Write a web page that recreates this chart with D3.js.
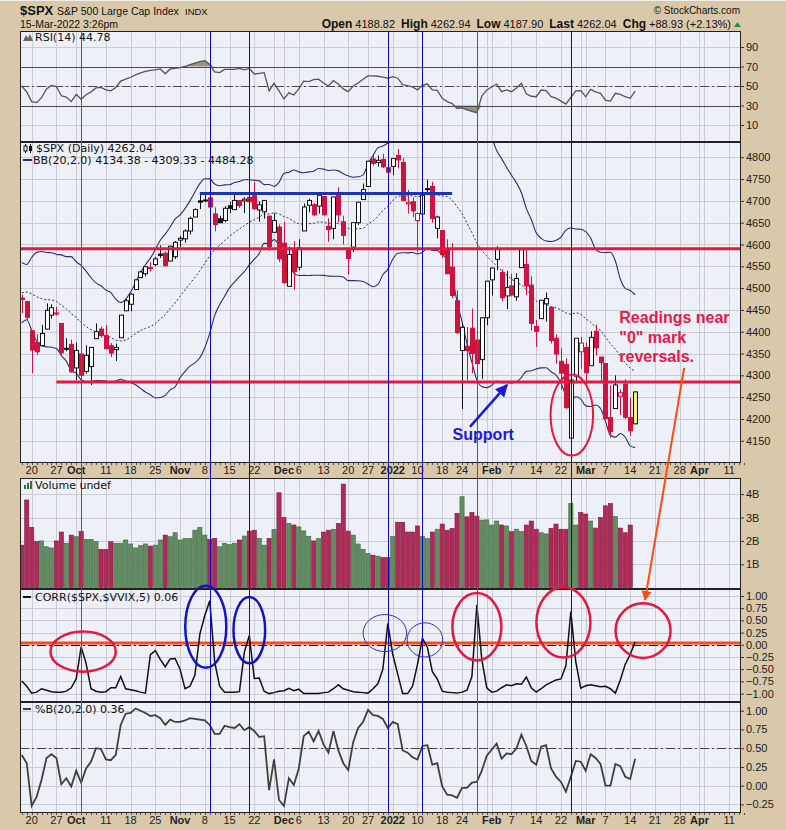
<!DOCTYPE html>
<meta charset="utf-8">
<title>$SPX S&amp;P 500 Large Cap Index</title>
<style>
html, body { margin: 0; padding: 0; background-color: #d9c9aa; }
svg { display: block; }
.hdr { font-family: Arial, "Liberation Sans", sans-serif; fill: #111; }
.lbl { font-family: "DejaVu Sans", Verdana, sans-serif; font-size: 11px; fill: #111; }
.axis text { font-family: Arial, "Liberation Sans", sans-serif; font-size: 11px; fill: #222; }
.axis path { display: none; }
.axis line { stroke: #333; }
.date { font-family: Arial, "Liberation Sans", sans-serif; font-size: 11px; fill: #222; text-anchor: middle; }
.note { font-family: Arial, "Liberation Sans", sans-serif; font-weight: bold; font-size: 16px; }
</style>
<body>
<script src="https://d3js.org/d3.v7.min.js"></script>
<script>

// ---- data (15-Mar-2022 3:26pm) ----
var holidays = ["2021-11-25", "2021-12-24", "2022-01-17", "2022-02-21", "2022-04-15"];

// 19 closes before the first bar, needed for BB(20,2)
var priorClose = [4405.8, 4441.67, 4479.53, 4486.23, 4496.19, 4470.0, 4509.37, 4528.79, 4522.68, 4524.09,
                  4536.95, 4535.43, 4520.03, 4514.07, 4493.28, 4458.58, 4468.73, 4443.05, 4480.7];

var open = [4477,4469,4402,4375,4368,4406,4438,4442,4419,4362,4371,4317,4349,4309,4320,4384,4406,4391,4368,4359,
            4386,4448,4463,4497,4524,4533,4547,4554,4578,4580,4562,4572,4610,4613,4631,4663,4700,4702,4707,4670,
            4659,4655,4689,4680,4701,4700,4708,4712,4679,4675,4665,4628,4640,4603,4504,4589,4548,4631,4690,4691,
            4688,4710,4642,4637,4719,4652,4587,4594,4650,4703,4733,4796,4788,4795,4776,4779,4804,4788,4693,4698,
            4655,4670,4728,4733,4637,4632,4588,4548,4471,4357,4367,4408,4381,4336,4432,4519,4566,4536,4482,4505,
            4480,4547,4554,4507,4412,4430,4464,4456,4385,4332,4325,4156,4298,4354,4364,4322,4401,4342,4327,4203,
            4224,4252,4280,4203,4188.82];
var high = [4485,4471,4402,4394,4416,4465,4463,4457,4419,4385,4382,4375,4356,4369,4365,4419,4412,4415,4374,4373,
            4439,4475,4488,4520,4540,4549,4559,4572,4598,4584,4597,4608,4620,4635,4664,4683,4718,4715,4709,4685,
            4666,4688,4698,4714,4701,4708,4718,4743,4699,4702,4665,4672,4646,4652,4595,4608,4612,4694,4705,4695,
            4713,4710,4660,4709,4731,4666,4591,4651,4697,4740,4791,4808,4804,4808,4786,4797,4819,4798,4725,4708,
            4673,4714,4749,4744,4666,4632,4612,4603,4495,4418,4411,4453,4429,4433,4516,4547,4596,4543,4539,4533,
            4534,4589,4588,4527,4427,4473,4490,4456,4394,4362,4339,4295,4385,4388,4375,4401,4416,4342,4327,4277,
            4300,4268,4291,4248,4262.94];
var low  = [4443,4427,4305,4347,4367,4406,4430,4437,4346,4355,4306,4289,4279,4304,4278,4384,4386,4360,4342,4333,
            4386,4448,4447,4496,4524,4527,4538,4550,4569,4551,4562,4567,4595,4604,4623,4663,4681,4697,4670,4630,
            4649,4651,4672,4680,4684,4672,4690,4680,4652,4659,4586,4626,4560,4510,4504,4496,4541,4631,4674,4665,
            4671,4667,4606,4612,4651,4600,4531,4583,4645,4703,4733,4781,4778,4775,4765,4759,4775,4699,4671,4663,
            4582,4638,4718,4650,4614,4569,4533,4477,4395,4223,4288,4305,4309,4292,4415,4483,4541,4470,4452,4481,
            4471,4547,4484,4402,4365,4430,4423,4373,4327,4267,4223,4115,4287,4315,4279,4322,4345,4284,4199,4157,
            4223,4209,4200,4161,4187.9];
var close = [4474,4433,4358,4354,4396,4449,4455,4443,4352,4360,4308,4357,4300,4346,4364,4400,4391,4361,4351,4364,
             4438,4471,4486,4519,4537,4549,4545,4567,4575,4551,4596,4605,4614,4631,4660,4680,4697,4702,4686,4646,
             4650,4683,4683,4701,4689,4704,4698,4682,4691,4701,4595,4655,4567,4513,4577,4538,4592,4686,4701,4668,
             4713,4668,4634,4709,4668,4621,4568,4650,4697,4726,4791,4786,4793,4778,4766,4797,4794,4701,4696,4677,
             4671,4713,4726,4660,4663,4577,4533,4483,4398,4410,4357,4350,4327,4432,4516,4546,4589,4478,4501,4484,
             4522,4588,4505,4419,4401,4472,4476,4380,4349,4305,4226,4289,4385,4374,4306,4387,4363,4329,4201,4171,
             4278,4260,4204,4173,4262.04];

// volume in billions (today's bar not posted yet)
var volume = [1.82,3.75,2.58,1.97,2.0,1.75,1.7,2.0,2.38,1.9,2.25,2.18,2.41,2.07,2.07,1.97,1.64,1.64,1.97,1.9,
              1.9,2.04,1.87,1.7,1.8,1.87,1.78,1.82,2.04,2.25,2.18,2.35,2.04,2.11,2.11,2.46,2.58,2.25,2.07,2.11,
              1.75,1.9,1.85,1.9,2.04,2.21,2.42,2.46,2.11,1.82,2.11,2.49,4.06,3.01,2.75,2.68,2.6,2.43,2.2,2.0,
              2.1,2.38,2.46,2.5,2.75,4.43,2.42,2.25,1.87,1.64,1.46,1.39,1.35,1.29,1.29,2.2,2.8,2.8,2.38,2.38,
              2.64,2.2,2.1,2.38,2.5,2.72,2.46,2.54,3.18,3.89,3.03,3.22,3.06,2.89,2.9,2.68,2.85,2.68,2.64,2.4,
              2.5,2.4,2.68,2.85,2.5,2.35,2.3,2.54,2.72,2.5,2.5,3.6,2.68,3.22,3.15,2.85,2.55,3.0,3.5,3.6,
              3.05,2.55,2.35,2.68,null];

var rsi = [50,44,34,33,38,47,50.5,49.5,40,38.7,34,41.5,36.4,41,44,48,48.5,46,45,48.5,
           55,57,59,61.5,63.5,65,66,66.5,67.5,62.5,67.5,68,68.8,70,72,73.5,75,76,72,64.5,
           63.7,67,67,67,68,66.5,68,62.3,63,63.7,45,52.8,45,36.7,43,40.8,47,55,54.5,56.5,
           57,53,50,55.5,52,47,44.2,50,53,57,60.3,60.3,60,59,58,59.5,58,51.5,50.5,49,
           46,51,52,46,45.5,37.4,34,32,27,27.5,25.5,24,22.6,39.7,46,49,52,44.2,46,44.2,
           48,52.8,42,39.5,39,45.9,45.2,39,37.5,34.5,31.5,38.4,45,45.2,39,46.6,44,42.5,35.5,34.6,
           42.5,41.5,39,37.4,44.78];

var corr = [-0.74,-0.85,-0.99,-0.97,-0.9,-0.93,-0.96,-0.97,-0.97,-0.95,-0.88,-0.7,-0.04,-0.38,-0.9,-0.95,-0.97,-0.96,-0.88,-0.88,
            -0.65,-0.9,-0.92,-0.94,-0.97,-0.99,-0.2,-0.12,-0.3,-0.45,-0.29,-0.28,-0.5,-0.9,-0.85,-0.62,0.22,0.6,0.9,-0.35,
            -0.85,-0.97,-0.97,-0.97,-0.96,-0.15,0.19,-0.69,-0.68,-0.95,-1.0,-0.98,-0.95,-0.94,-0.89,-0.94,-0.91,-1.0,-1.0,-1.0,
            -1.0,-0.98,-0.97,-0.9,-0.82,-0.9,-0.93,-0.96,-0.97,-0.98,-0.99,-0.9,-0.8,-0.5,0.44,-0.2,-0.6,-1.0,-1.0,-0.85,
            -0.4,0.13,-0.05,-0.55,-0.7,-0.95,-0.97,-0.98,-0.99,-0.97,-0.93,-0.65,0.82,-0.3,-0.88,-0.97,-0.95,-0.88,-0.82,-0.84,
            -0.8,-0.81,-0.66,-0.88,-0.97,-0.9,-0.82,-0.77,-0.72,-0.7,-0.43,0.68,-0.35,-0.89,-0.84,-0.82,-0.84,-0.86,-0.85,-0.9,
            -0.99,-0.72,-0.4,-0.2,0.06];

var pctB = [0.41,0.3,-0.27,-0.15,0.08,0.37,0.42,0.37,0.02,0.1,-0.01,0.2,0.04,0.23,0.32,0.5,0.49,0.35,0.34,0.41,
            0.81,0.96,0.97,1.03,1.0,0.97,0.93,0.94,0.9,0.81,0.88,0.85,0.85,0.87,0.9,0.89,0.88,0.87,0.81,0.69,
            0.69,0.8,0.78,0.77,0.82,0.74,0.78,0.73,0.65,0.66,-0.06,0.35,-0.19,-0.27,0.1,0.01,0.23,0.66,0.72,0.59,
            0.73,0.55,0.44,0.73,0.47,0.3,0.21,0.58,0.77,0.85,1.01,0.94,0.93,0.89,0.77,0.85,0.82,0.47,0.44,0.38,
            0.35,0.53,0.54,0.28,0.3,-0.01,-0.12,-0.13,-0.16,-0.03,-0.03,0.04,0.05,0.2,0.4,0.48,0.56,0.36,0.43,0.42,
            0.5,0.68,0.53,0.33,0.28,0.52,0.54,0.23,0.12,0.05,-0.08,0.12,0.33,0.32,0.2,0.42,0.37,0.29,0.0,0.0,
            0.29,0.26,0.12,0.09,0.36];

// date axis
var tickDays = ["2021-09-20","2021-09-27","2021-10-01","2021-10-11","2021-10-18","2021-10-25","2021-11-01","2021-11-08",
                "2021-11-15","2021-11-22","2021-12-01","2021-12-06","2021-12-13","2021-12-20","2021-12-27","2022-01-03",
                "2022-01-10","2022-01-18","2022-01-24","2022-02-01","2022-02-07","2022-02-14","2022-02-22","2022-03-01",
                "2022-03-07","2022-03-14","2022-03-21","2022-03-28","2022-04-01","2022-04-11"];
var tickLabels = ["20","27","Oct","11","18","25","Nov","8","15","22","Dec","6","13","20","27","2022",
                  "10","18","24","Feb","7","14","22","Mar","7","14","21","28","Apr","11"];
var boldLabels = ["Oct","Nov","Dec","2022","Feb","Mar","Apr"];
var gridOnlyDays = ["2021-10-04","2021-11-29","2022-01-31","2022-02-28","2022-04-04"];

// analyst markings
var redDays = ["2021-10-04","2022-01-27"];
var blueDays = ["2021-11-09","2021-11-19","2021-12-31","2022-01-11","2022-02-24"];
var resistLevel = 4590, supportLevel = 4285, topLevel = 4717;
var topLineDays = ["2021-11-05", "2022-01-20"];
var supportFrom = "2021-09-27";

// ---- layout ----
var W = 786, H = 830, L = 20, R = 741;
var red = "#e8173f", blue = "#0a0ab4", navy = "#2c2c7a", orange = "#ff4a12";

// trading calendar (weekdays without market holidays)
var fmtDay = d3.timeFormat("%Y-%m-%d");
var days = [];
for (var d = new Date(2021, 8, 16); d <= new Date(2022, 3, 14); d.setDate(d.getDate() + 1)) {
  var s = fmtDay(d);
  if (d.getDay() > 0 && d.getDay() < 6 && holidays.indexOf(s) < 0) days.push(s);
}
var x = d3.scaleLinear().domain([-0.36, 145.4]).range([L, R]);
function xd(s) { return x(days.indexOf(s)); }
function px(v) { return Math.round(v) + 0.5; }

var svg = d3.select("body").append("svg")
    .attr("width", W)
    .attr("height", H);

svg.append("rect").attr("width", W).attr("height", H).attr("fill", "#d9c9aa");
svg.append("line").attr("x1", 0).attr("x2", W).attr("y1", 0.5).attr("y2", 0.5).attr("stroke", "#f3efe6");

var defs = svg.append("defs");

// one panel: background, grid, right axis, clipped group
function makePanel(top, bottom, dom, ticks, fmt) {
  var y = d3.scaleLinear().domain(dom).range([bottom, top]);
  svg.append("rect")
      .attr("x", L).attr("y", top).attr("width", R - L).attr("height", bottom - top)
      .attr("fill", "#eef0f7");
  var grid = svg.append("g").attr("stroke", "#cacbd5").attr("stroke-width", 1);
  grid.selectAll(null).data(tickDays.concat(gridOnlyDays)).join("line")
      .attr("x1", function(d) { return px(xd(d)); })
      .attr("x2", function(d) { return px(xd(d)); })
      .attr("y1", top).attr("y2", bottom);
  grid.selectAll(null).data(ticks).join("line")
      .attr("x1", L).attr("x2", R)
      .attr("y1", function(d) { return px(y(d)); })
      .attr("y2", function(d) { return px(y(d)); });
  svg.append("g")
      .attr("class", "axis")
      .attr("transform", "translate(" + R + ",0)")
      .call(d3.axisRight(y).tickValues(ticks).tickSize(3).tickPadding(2).tickFormat(fmt));
  var id = "clip" + top;
  defs.append("clipPath").attr("id", id)
    .append("rect").attr("x", L).attr("y", top).attr("width", R - L).attr("height", bottom - top);
  var g = svg.append("g").attr("clip-path", "url(#" + id + ")");
  return { y: y, g: g, top: top, bottom: bottom };
}

var rsiP   = makePanel(31, 142, [-7.4, 106.4], [10, 30, 50, 70, 90], d3.format("d"));
var priceP = makePanel(142, 463, [4099, 4835], d3.range(4150, 4801, 50), d3.format("d"));
var volP   = makePanel(478, 589, [-0.056, 4.69], [1, 2, 3, 4], function(d) { return d + "B"; });
var corrP  = makePanel(589, 702, [-1.172, 1.143], d3.range(-1, 1.01, 0.25), d3.format(".2f"));
var pbP    = makePanel(702, 813, [-0.364, 1.116], d3.range(-0.25, 1.01, 0.25), d3.format(".2f"));

// ---- RSI ----
var idx = d3.range(close.length);
var ry = rsiP.y;
rsiP.g.append("path").datum(idx)
    .attr("fill", "#9a9580")
    .attr("d", d3.area().x(function(i) { return x(i); })
      .y0(ry(70)).y1(function(i) { return ry(Math.max(rsi[i], 70)); }));
rsiP.g.append("path").datum(idx)
    .attr("fill", "#9a9580")
    .attr("d", d3.area().x(function(i) { return x(i); })
      .y0(ry(30)).y1(function(i) { return ry(Math.min(rsi[i], 30)); }));
[70, 30].forEach(function(v) {
  rsiP.g.append("line").attr("x1", L).attr("x2", R).attr("y1", px(ry(v))).attr("y2", px(ry(v)))
      .attr("stroke", "#4a4a4a");
});
rsiP.g.append("line").attr("x1", L).attr("x2", R).attr("y1", px(ry(50))).attr("y2", px(ry(50)))
    .attr("stroke", "#4a4a4a").attr("stroke-dasharray", "9,3,2,3");
rsiP.g.append("path").datum(idx)
    .attr("fill", "none").attr("stroke", "#555").attr("stroke-width", 1.3)
    .attr("d", d3.line().x(function(i) { return x(i); }).y(function(i) { return ry(rsi[i]); }));

// ---- price: Bollinger bands from the closes ----
var allClose = priorClose.concat(close);
var bb = close.map(function(c, i) {
  var win = allClose.slice(i, i + 20);
  var m = d3.mean(win);
  var sd = Math.sqrt(d3.mean(win, function(v) { return (v - m) * (v - m); }));
  return { mid: m, up: m + 2 * sd, lo: m - 2 * sd };
});
var py = priceP.y;
["up", "lo", "mid"].forEach(function(k) {
  priceP.g.append("path").datum(idx)
      .attr("fill", "none").attr("stroke", navy)
      .attr("stroke-width", k == "mid" ? 1 : 1.1)
      .attr("stroke-dasharray", k == "mid" ? "2,2" : null)
      .attr("d", d3.line().curve(d3.curveMonotoneX)
        .x(function(i) { return x(i); }).y(function(i) { return py(bb[i][k]); }));
});

// candles: black/red vs previous close, hollow when close > open
var prevClose = [priorClose[priorClose.length - 1]].concat(close.slice(0, -1));
var candle = priceP.g.selectAll(".candle").data(idx).join("g").attr("class", "candle");
function cColor(i) { return close[i] >= prevClose[i] ? "#111" : "#d0123f"; }
candle.append("line")
    .attr("x1", function(i) { return px(x(i)); }).attr("x2", function(i) { return px(x(i)); })
    .attr("y1", function(i) { return py(high[i]); }).attr("y2", function(i) { return py(low[i]); })
    .attr("stroke", cColor);
candle.append("rect")
    .attr("x", function(i) { return Math.round(x(i)) - 1.5; })
    .attr("width", 4)
    .attr("y", function(i) { return py(Math.max(open[i], close[i])); })
    .attr("height", function(i) { return Math.max(1, Math.abs(py(open[i]) - py(close[i]))); })
    .attr("fill", function(i) {
      if (i == close.length - 1) return "#f6f27a";
      return close[i] > open[i] ? "#fff" : cColor(i);
    })
    .attr("stroke", cColor);

// horizontal levels
priceP.g.append("line").attr("x1", L).attr("x2", R)
    .attr("y1", py(resistLevel)).attr("y2", py(resistLevel))
    .attr("stroke", red).attr("stroke-width", 3);
priceP.g.append("line").attr("x1", xd(supportFrom)).attr("x2", R)
    .attr("y1", py(supportLevel)).attr("y2", py(supportLevel))
    .attr("stroke", red).attr("stroke-width", 3);
priceP.g.append("line").attr("x1", xd(topLineDays[0])).attr("x2", xd(topLineDays[1]))
    .attr("y1", py(topLevel)).attr("y2", py(topLevel))
    .attr("stroke", "#1c33b4").attr("stroke-width", 3);

// ---- volume ----
var vy = volP.y;
volP.g.selectAll(".bar").data(idx.filter(function(i) { return volume[i] != null; })).join("rect")
    .attr("x", function(i) { return x(i) - 2.1; })
    .attr("width", 4.2)
    .attr("y", function(i) { return vy(volume[i]); })
    .attr("height", function(i) { return vy(0) - vy(volume[i]); })
    .attr("fill", function(i) { return close[i] >= prevClose[i] ? "#628c62" : "#b02a58"; })
    .attr("stroke", function(i) { return close[i] >= prevClose[i] ? "#3f6a3f" : "#7f1a3e"; })
    .attr("stroke-width", 0.6);

// ---- CORR($SPX,$VVIX,5) ----
var cy = corrP.y;
corrP.g.append("line").attr("x1", L).attr("x2", R).attr("y1", px(cy(0))).attr("y2", px(cy(0)))
    .attr("stroke", "#111").attr("stroke-dasharray", "9,3,2,3");
corrP.g.append("line").attr("x1", L).attr("x2", R).attr("y1", cy(0.035)).attr("y2", cy(0.035))
    .attr("stroke", orange).attr("stroke-width", 3);
corrP.g.append("path").datum(idx)
    .attr("fill", "none").attr("stroke", "#111").attr("stroke-width", 1.5)
    .attr("d", d3.line().x(function(i) { return x(i); }).y(function(i) { return cy(corr[i]); }));

// ---- %B(20,2) ----
var by = pbP.y;
pbP.g.append("line").attr("x1", L).attr("x2", R).attr("y1", px(by(0.5))).attr("y2", px(by(0.5)))
    .attr("stroke", "#444").attr("stroke-dasharray", "9,3,2,3");
pbP.g.append("path").datum(idx)
    .attr("fill", "none").attr("stroke", "#3d4238").attr("stroke-width", 1.8)
    .attr("d", d3.line().x(function(i) { return x(i); }).y(function(i) { return by(pctB[i]); }));

// ---- date axes ----
[463, 813].forEach(function(yb) {
  svg.append("g").selectAll(null).data(days).join("line")
      .attr("x1", function(d) { return px(xd(d)); }).attr("x2", function(d) { return px(xd(d)); })
      .attr("y1", yb).attr("y2", yb + 2).attr("stroke", "#555");
  svg.append("g").selectAll(null).data(tickDays).join("text")
      .attr("class", "date")
      .attr("x", function(d) { return xd(d); })
      .attr("y", yb + 11)
      .attr("font-weight", function(d, i) { return boldLabels.indexOf(tickLabels[i]) >= 0 ? "bold" : null; })
      .text(function(d, i) { return tickLabels[i]; });
});

// panel borders
[rsiP, priceP, volP, corrP, pbP].forEach(function(p) {
  svg.append("rect").attr("x", L + 0.5).attr("y", p.top + 0.5)
      .attr("width", R - L - 1).attr("height", p.bottom - p.top - 1)
      .attr("fill", "none").attr("stroke", "#222");
});

// vertical marker lines across every panel
svg.append("g").selectAll(null).data(redDays).join("line")
    .attr("x1", function(d) { return px(xd(d)); }).attr("x2", function(d) { return px(xd(d)); })
    .attr("y1", rsiP.top).attr("y2", pbP.bottom).attr("stroke", "#d81e50");
svg.append("g").selectAll(null).data(blueDays).join("line")
    .attr("x1", function(d) { return px(xd(d)); }).attr("x2", function(d) { return px(xd(d)); })
    .attr("y1", rsiP.top).attr("y2", pbP.bottom).attr("stroke", blue);

// ---- annotations ----
function marker(id, color) {
  defs.append("marker").attr("id", id)
      .attr("viewBox", "0 0 10 10").attr("refX", 9).attr("refY", 5)
      .attr("markerWidth", 5).attr("markerHeight", 5).attr("orient", "auto")
    .append("path").attr("d", "M0,0L10,5L0,10z").attr("fill", color);
}
marker("headBlue", "#1a1adb");
marker("headOrange", orange);

// price panel: support arrow + circled spike
svg.append("line")
    .attr("x1", x(90.6)).attr("y1", py(4182)).attr("x2", x(98.1)).attr("y2", py(4278))
    .attr("stroke", "#1a1adb").attr("stroke-width", 2.5).attr("marker-end", "url(#headBlue)");
svg.append("text").attr("class", "note").attr("fill", "#1a1adb")
    .attr("x", x(87.1)).attr("y", py(4152)).text("Support");
svg.append("ellipse")
    .attr("cx", x(111.2)).attr("cy", py(4209))
    .attr("rx", x(111.2 + 4.3) - x(111.2)).attr("ry", py(4209) - py(4302))
    .attr("fill", "none").attr("stroke", red).attr("stroke-width", 2);

var note = svg.append("text").attr("class", "note").attr("fill", "#e8174a");
["Readings near", "\"0\" mark", "reversals."].forEach(function(t, k) {
  note.append("tspan").attr("x", x(120.8)).attr("y", py(4419) + k * 19.5).text(t);
});
svg.append("line")
    .attr("x1", x(133.9)).attr("y1", py(4317)).attr("x2", x(126)).attr("y2", cy(0.92))
    .attr("stroke", orange).attr("stroke-width", 2).attr("marker-end", "url(#headOrange)");

// CORR panel circles: [day index, value, half width in days, half height in value, colour, width]
var rings = [[12.4, -0.14, 6.6, 0.41, red, 2.5], [37.2, 0.37, 4.15, 0.84, "#1212c8", 2.5],
             [46, 0.30, 3.2, 0.68, "#1212c8", 2.5], [73.4, 0.24, 4.4, 0.38, "#3030d0", 1],
             [81.5, 0.10, 3.6, 0.35, "#3030d0", 1], [92, 0.37, 4.95, 0.69, red, 2.5],
             [109.5, 0.46, 5.46, 0.72, red, 2.5], [125.6, 0.29, 5.56, 0.56, red, 2.5]];
svg.append("g").selectAll(null).data(rings).join("ellipse")
    .attr("cx", function(r) { return x(r[0]); })
    .attr("cy", function(r) { return cy(r[1]); })
    .attr("rx", function(r) { return x(r[0] + r[2]) - x(r[0]); })
    .attr("ry", function(r) { return cy(0) - cy(r[3]); })
    .attr("fill", "none")
    .attr("stroke", function(r) { return r[4]; })
    .attr("stroke-width", function(r) { return r[5]; });

// ---- titles and legends ----
var t1 = svg.append("text").attr("class", "hdr").attr("x", 20).attr("y", 15);
t1.append("tspan").attr("font-weight", "bold").attr("font-size", 13).text("$SPX");
t1.append("tspan").attr("x", 57).attr("font-size", 10.5).text("S&P 500 Large Cap Index");
t1.append("tspan").attr("x", 185).attr("font-size", 9.5).text("INDX");
svg.append("text").attr("class", "hdr").attr("x", 20).attr("y", 28).attr("font-size", 10.5).text("15-Mar-2022 3:26pm");
svg.append("text").attr("class", "hdr").attr("x", 740).attr("y", 14).attr("text-anchor", "end")
    .attr("font-size", 10).attr("fill", "#555").text("\u00a9 StockCharts.com");

var quote = [["Open", "4188.82"], ["High", "4262.94"], ["Low", "4187.90"], ["Last", "4262.04"], ["Chg", "+88.93 (+2.13%)"]];
var t2 = svg.append("text").attr("class", "hdr").attr("x", 731).attr("y", 28)
    .attr("text-anchor", "end").attr("font-size", 11);
quote.forEach(function(q, k) {
  t2.append("tspan").attr("dx", k ? 6 : 0).attr("font-weight", "bold").attr("font-size", 12).text(q[0]);
  t2.append("tspan").attr("dx", 3).text(q[1]);
});
svg.append("path").attr("d", "M734,27 L741,27 L737.5,22 Z").attr("fill", "#2f8f2f");

// legend icons and labels
svg.append("path").attr("d", "M23,41 L26,35 L28,38 L30,34 L33,41 Z").attr("fill", "#6a6a5a");
svg.append("text").attr("class", "lbl").attr("x", 35).attr("y", 41).text("RSI(14) 44.78");

svg.append("line").attr("x1", 25.5).attr("x2", 25.5).attr("y1", 144).attr("y2", 153).attr("stroke", "#111");
svg.append("rect").attr("x", 24).attr("y", 146).attr("width", 3).attr("height", 5).attr("fill", "#fff").attr("stroke", "#111");
svg.append("line").attr("x1", 30.5).attr("x2", 30.5).attr("y1", 144).attr("y2", 153).attr("stroke", "#111");
svg.append("rect").attr("x", 29).attr("y", 146).attr("width", 3).attr("height", 5).attr("fill", "#111");
svg.append("text").attr("class", "lbl").attr("x", 36).attr("y", 152).text("$SPX (Daily) 4262.04");
svg.append("line").attr("x1", 23).attr("x2", 32).attr("y1", 160).attr("y2", 160).attr("stroke", navy).attr("stroke-width", 2);
svg.append("text").attr("class", "lbl").attr("x", 33).attr("y", 164).text("BB(20,2.0) 4134.38 - 4309.33 - 4484.28");

svg.append("g").selectAll(null).data([4, 6, 8]).join("rect")
    .attr("x", function(d, k) { return 24 + k * 3; }).attr("y", function(d) { return 489 - d; })
    .attr("width", 2).attr("height", function(d) { return d; }).attr("fill", "#3f6a3f");
svg.append("text").attr("class", "lbl").attr("x", 35).attr("y", 489).text("Volume undef");

svg.append("line").attr("x1", 23).attr("x2", 31).attr("y1", 597).attr("y2", 597).attr("stroke", "#111").attr("stroke-width", 2);
svg.append("text").attr("class", "lbl").attr("x", 35).attr("y", 601).text("CORR($SPX,$VVIX,5) 0.06");

svg.append("line").attr("x1", 23).attr("x2", 31).attr("y1", 709).attr("y2", 709).attr("stroke", "#3d4238").attr("stroke-width", 2);
svg.append("text").attr("class", "lbl").attr("x", 35).attr("y", 713).text("%B(20,2.0) 0.36");

</script>
</body>
